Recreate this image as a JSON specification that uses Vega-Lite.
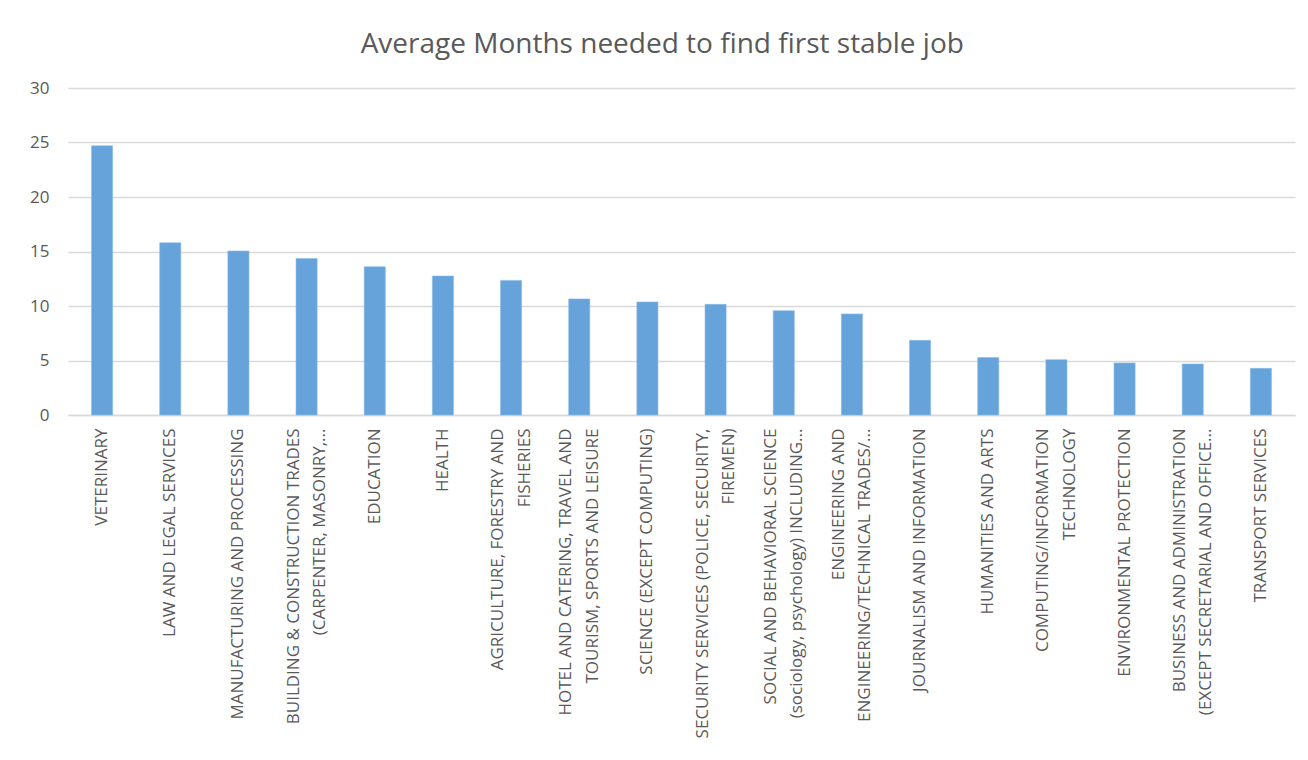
{
  "$schema": "https://vega.github.io/schema/vega-lite/v6.json",
  "width": 1227,
  "height": 327,
  "autosize": {"type": "none"},
  "padding": {"left": 68, "top": 88, "right": 13, "bottom": 345},
  "background": "white",
  "title": {
    "text": "Average Months needed to find first stable job",
    "anchor": "middle",
    "frame": "bounds",
    "font": "Open Sans",
    "fontSize": 28,
    "fontWeight": "normal",
    "color": "#595959",
    "offset": 20
  },
  "data": {
    "values": [
      {"field": "VETERINARY", "months": 24.7},
      {"field": "LAW AND LEGAL SERVICES", "months": 15.8},
      {"field": "MANUFACTURING AND PROCESSING", "months": 15.05},
      {"field": "BUILDING & CONSTRUCTION TRADES|(CARPENTER, MASONRY,...", "months": 14.35},
      {"field": "EDUCATION", "months": 13.6},
      {"field": "HEALTH", "months": 12.75},
      {"field": "AGRICULTURE, FORESTRY AND|FISHERIES", "months": 12.35},
      {"field": "HOTEL AND CATERING, TRAVEL AND|TOURISM, SPORTS AND LEISURE", "months": 10.65},
      {"field": "SCIENCE (EXCEPT COMPUTING)", "months": 10.37},
      {"field": "SECURITY SERVICES (POLICE, SECURITY,|FIREMEN)", "months": 10.15},
      {"field": "SOCIAL AND BEHAVIORAL SCIENCE|(sociology, psychology) INCLUDING...", "months": 9.57},
      {"field": "ENGINEERING AND|ENGINEERING/TECHNICAL TRADES/...", "months": 9.27},
      {"field": "JOURNALISM AND INFORMATION", "months": 6.85},
      {"field": "HUMANITIES AND ARTS", "months": 5.27},
      {"field": "COMPUTING/INFORMATION|TECHNOLOGY", "months": 5.08},
      {"field": "ENVIRONMENTAL PROTECTION", "months": 4.78},
      {"field": "BUSINESS AND ADMINISTRATION|(EXCEPT SECRETARIAL AND OFFICE...", "months": 4.68},
      {"field": "TRANSPORT SERVICES", "months": 4.28}
    ]
  },
  "mark": {"type": "bar", "color": "#65A3DA", "stroke": "#8DBCE6", "strokeWidth": 0.6},
  "encoding": {
    "x": {
      "field": "field",
      "type": "nominal",
      "sort": null,
      "scale": {"paddingInner": 0.69, "paddingOuter": 0.345},
      "axis": {
        "title": null,
        "labelAngle": -90,
        "labelAlign": "right",
        "labelBaseline": "middle",
        "labelExpr": "split(datum.label, '|')",
        "labelFont": "Open Sans",
        "labelFontSize": 17,
        "labelColor": "#595959",
        "labelLineHeight": 26.5,
        "labelPadding": 13,
        "labelLimit": 400,
        "labelOffset": {"condition": {"test": "indexof(datum.label, '|') >= 0", "value": -13}, "value": 0},
        "ticks": false,
        "domainColor": "#D9D9D9",
        "domainWidth": 1.5,
        "grid": false
      }
    },
    "y": {
      "field": "months",
      "type": "quantitative",
      "scale": {"domain": [0, 30]},
      "axis": {
        "title": null,
        "values": [0, 5, 10, 15, 20, 25, 30],
        "labelFont": "Open Sans",
        "labelFontSize": 17,
        "labelColor": "#595959",
        "labelPadding": 19,
        "ticks": false,
        "domain": false,
        "gridColor": "#D9D9D9",
        "gridWidth": 1.5
      }
    }
  },
  "config": {"view": {"stroke": null}}
}
